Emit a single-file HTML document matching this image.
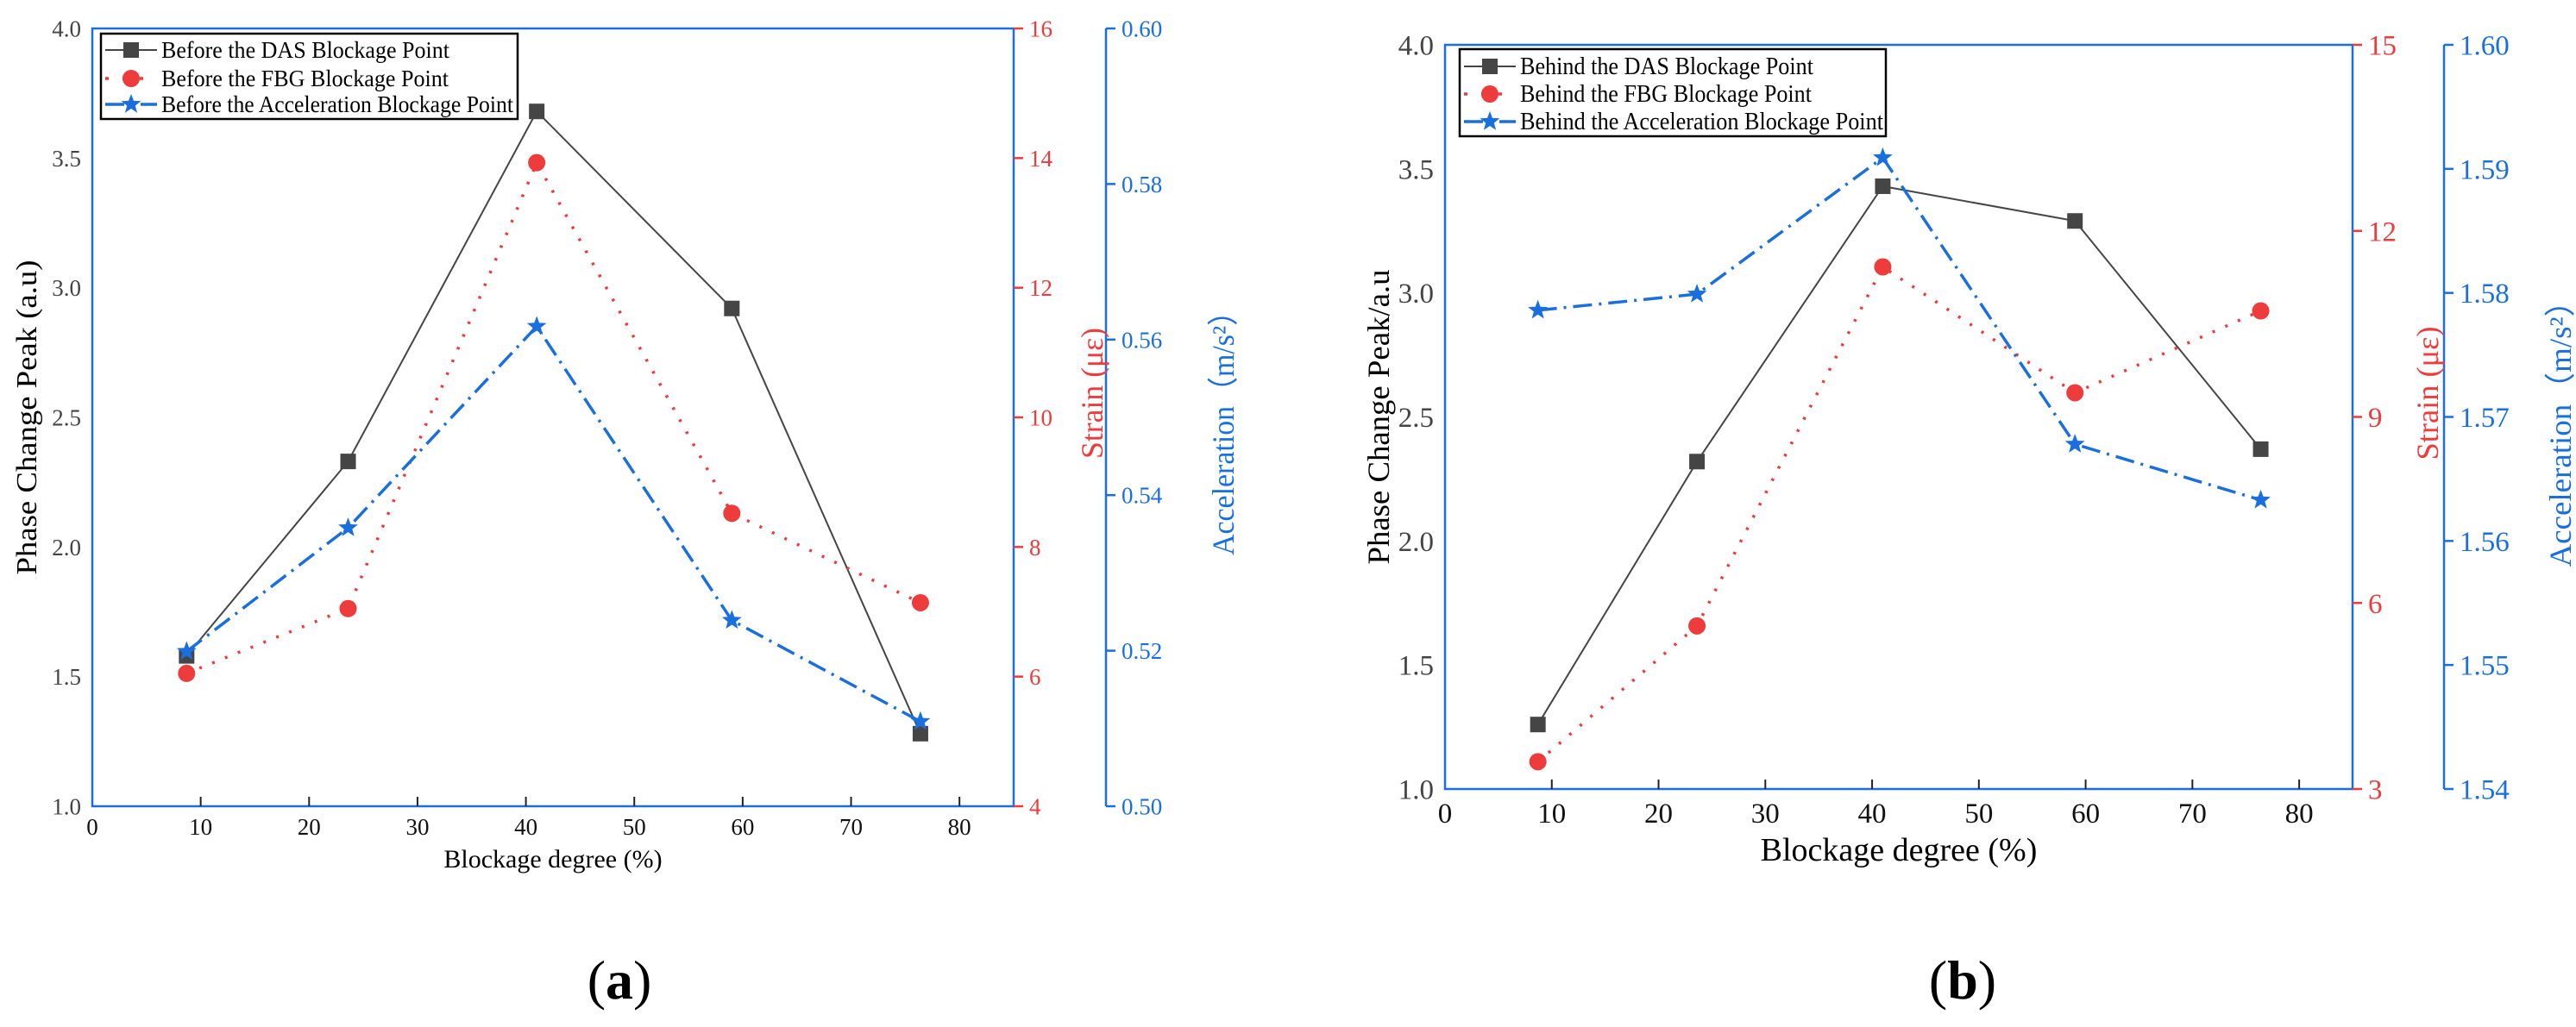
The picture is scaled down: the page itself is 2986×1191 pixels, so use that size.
<!DOCTYPE html>
<html><head><meta charset="utf-8"><style>
html,body{margin:0;padding:0;background:#fff;}
svg, svg text{font-family:"Liberation Serif","DejaVu Serif",serif;}
</style></head><body>
<svg id="chart" width="2986" height="1186" viewBox="0 0 2986 1186" xmlns="http://www.w3.org/2000/svg" font-family="Liberation Serif, serif">
<text x="718" y="1158" font-size="64" text-anchor="middle" font-family="Liberation Serif, serif">(<tspan font-weight="bold">a</tspan>)</text>
<text x="2275" y="1158" font-size="64" text-anchor="middle" font-family="Liberation Serif, serif">(<tspan font-weight="bold">b</tspan>)</text>
</svg>
<script>
// ---- data panel a ----
const xA = [8.7, 23.6, 41, 59, 76.4];
const dasA = [1.58, 2.33, 3.68, 2.92, 1.28];
const strainA = [6.05, 7.05, 13.93, 8.52, 7.14];
const accA = [0.5199, 0.5358, 0.5617, 0.5239, 0.5109];
const leftTicksA = ["1.0","1.5","2.0","2.5","3.0","3.5","4.0"];
const strainTicksA = ["4","6","8","10","12","14","16"];
const accTicksA = ["0.50","0.52","0.54","0.56","0.58","0.60"];
const legendA = ["Before the DAS Blockage Point","Before the FBG Blockage Point","Before the Acceleration Blockage Point"];
// ---- data panel b ----
const xB = [8.7, 23.6, 41, 59, 76.4];
const dasB = [1.26, 2.32, 3.43, 3.29, 2.37];
const strainB = [3.44, 5.63, 11.42, 9.39, 10.71];
const accB = [1.5786, 1.5799, 1.5909, 1.5678, 1.5633];
const leftTicksB = ["1.0","1.5","2.0","2.5","3.0","3.5","4.0"];
const strainTicksB = ["3","6","9","12","15"];
const accTicksB = ["1.54","1.55","1.56","1.57","1.58","1.59","1.60"];
const legendB = ["Behind the DAS Blockage Point","Behind the FBG Blockage Point","Behind the Acceleration Blockage Point"];
const xTicks = ["0","10","20","30","40","50","60","70","80"];

const NS = "http://www.w3.org/2000/svg";
const svg = document.getElementById('chart');
const C_DAS = "#454545", C_FBG = "#ee3b3b", C_ACC = "#1a6fdf";
function mk(tag, attrs, parent) {
  const e = document.createElementNS(NS, tag);
  if (tag === 'text') e.setAttribute('font-family', 'Liberation Serif, serif');
  for (const k in attrs) e.setAttribute(k, attrs[k]);
  (parent || svg).appendChild(e);
  return e;
}
function star(cx, cy, r) {
  let p = [];
  for (let i = 0; i < 10; i++) {
    const rr = i % 2 ? r * 0.42 : r, a = -Math.PI / 2 + i * Math.PI / 5;
    p.push((cx + rr * Math.cos(a)).toFixed(1) + "," + (cy + rr * Math.sin(a)).toFixed(1));
  }
  return p.join(" ");
}
function panel(P) {
  const g = mk('g', {});
  
  
  const xs = v => P.L + (v / 85) * (P.R - P.L);
  const yl = v => P.B - (v - 1) / 3 * (P.B - P.T);
  const ys = v => P.B - (v - P.smin) / (P.smax - P.smin) * (P.B - P.T);
  const ya = v => P.B - (v - P.amin) / (P.amax - P.amin) * (P.B - P.T);
  const fr = mk('path', {d:`M${P.R},${P.T} L${P.L},${P.T} L${P.L},${P.B} L${P.R},${P.B} L${P.R},${P.T}`, fill:'none', stroke:C_ACC, 'stroke-width':2.5}, g);
  
  
  const ba = mk('line', {x1:P.A, y1:P.T, x2:P.A, y2:P.B, stroke:C_ACC, 'stroke-width':2.5}, g);
  
  
  xTicks.forEach(t => {
    const x = xs(+t);
    if (+t > 0) mk('line', {x1:x, y1:P.B, x2:x, y2:P.B - 11, stroke:'#222', 'stroke-width':2}, g);
    const tx = mk('text', {x:x, y:P.B + P.tfs + 6, 'font-size':P.tfs, 'text-anchor':'middle', fill:'#111'}, g);
    tx.textContent = t;
    
    
  });
  P.lt.forEach(t => {
    const y = yl(+t);
    const tx = mk('text', {x:P.L - 13, y:y + P.tfs * 0.35, 'font-size':P.tfs, 'text-anchor':'end', fill:'#444'}, g);
    tx.textContent = t;
    
    
  });
  P.st.forEach(t => {
    const y = ys(+t);
    mk('line', {x1:P.R, y1:y, x2:P.R + 11, y2:y, stroke:C_FBG, 'stroke-width':2.5}, g);
    const tx = mk('text', {x:P.R + 18, y:y + P.tfs * 0.35, 'font-size':P.tfs, fill:C_FBG}, g);
    tx.textContent = t;
    
    
  });
  P.at.forEach(t => {
    const y = ya(+t);
    mk('line', {x1:P.A, y1:y, x2:P.A + 11, y2:y, stroke:C_ACC, 'stroke-width':2.5}, g);
    const tx = mk('text', {x:P.A + 18, y:y + P.tfs * 0.35, 'font-size':P.tfs, fill:C_ACC}, g);
    tx.textContent = t;
    
    
  });
  const t1 = mk('text', {x:0, y:0, 'font-size':P.yfs, 'text-anchor':'middle', fill:'#000', textLength:P.ylw, lengthAdjust:'spacingAndGlyphs', transform:`translate(${P.ylx},${(P.T+P.B)/2}) rotate(-90)`}, g);
  t1.textContent = P.ytitle;
  
  
  const t2 = mk('text', {x:0, y:0, 'font-size':P.rfs, 'text-anchor':'middle', fill:C_FBG, textLength:P.slw, lengthAdjust:'spacingAndGlyphs', transform:`translate(${P.slx},${P.sly}) rotate(-90)`}, g);
  t2.textContent = "Strain (με)";
  
  
  const t3 = mk('text', {x:0, y:0, 'font-size':P.rfs, 'text-anchor':'middle', fill:C_ACC, textLength:P.alw, lengthAdjust:'spacingAndGlyphs', transform:`translate(${P.alx},${P.aly}) rotate(-90)`}, g);
  t3.textContent = "Acceleration（m/s²）";
  
  
  const t4 = mk('text', {x:(P.L+P.R)/2, y:P.xty, 'font-size':P.xfs, 'text-anchor':'middle', fill:'#000'}, g);
  t4.textContent = "Blockage degree (%)";
  
  
  const pts = (arr, f) => arr.map((v, i) => xs(P.x[i]).toFixed(1) + "," + f(v).toFixed(1)).join(" ");
  const l1 = mk('polyline', {points:pts(P.das, yl), fill:'none', stroke:C_DAS, 'stroke-width':2}, g);
  
  
  const l2 = mk('polyline', {points:pts(P.strain, ys), fill:'none', stroke:C_FBG, 'stroke-width':3.5, 'stroke-dasharray':'3 13'}, g);
  
  
  const l3 = mk('polyline', {points:pts(P.acc, ya), fill:'none', stroke:C_ACC, 'stroke-width':3.5, 'stroke-dasharray':'22 8 3 8'}, g);
  
  
  P.das.forEach((v, i) => {
    const m = mk('rect', {x:xs(P.x[i]) - 9, y:yl(v) - 9, width:18, height:18, fill:C_DAS}, g);
    
    
  });
  P.strain.forEach((v, i) => {
    const m = mk('circle', {cx:xs(P.x[i]), cy:ys(v), r:10, fill:C_FBG}, g);
    
    
  });
  P.acc.forEach((v, i) => {
    const m = mk('polygon', {points:star(xs(P.x[i]), ya(v), 12), fill:C_ACC}, g);
    
    
  });
  const lg = mk('g', {}, g);
  
  
  mk('rect', {x:P.lg[0], y:P.lg[1], width:P.lg[2], height:P.lg[3], fill:'#fff', stroke:'#000', 'stroke-width':2.5}, lg);
  const sx = P.lg[0] + 5, sw = 60, cxm = sx + sw / 2;
  const styles = [
    {stroke:C_DAS, 'stroke-width':2},
    {stroke:C_FBG, 'stroke-width':3.5, 'stroke-dasharray':'4 16'},
    {stroke:C_ACC, 'stroke-width':3.5, 'stroke-dasharray':'22 8 3 8'}];
  P.legend.forEach((t, i) => {
    const y = P.rows[i];
    const e = mk('g', {}, lg);
    
    
    mk('line', Object.assign({x1:sx, y1:y, x2:sx + sw, y2:y}, styles[i]), e);
    if (i === 0) mk('rect', {x:cxm - 9, y:y - 9, width:18, height:18, fill:C_DAS}, e);
    if (i === 1) mk('circle', {cx:cxm, cy:y, r:10, fill:C_FBG}, e);
    if (i === 2) mk('polygon', {points:star(cxm, y, 12), fill:C_ACC}, e);
    const tx = mk('text', {x:P.ltx, y:y + 9, 'font-size':P.lfs, textLength:P.ltw[i], lengthAdjust:'spacingAndGlyphs'}, e);
    tx.textContent = t;
  });
}
panel({id:'a', L:107, R:1175, A:1282, T:33, B:935, smin:4, smax:16, amin:0.5, amax:0.6,
  x:xA, das:dasA, strain:strainA, acc:accA, lt:leftTicksA, st:strainTicksA, at:accTicksA, legend:legendA,
  tfs:27, yfs:34, rfs:36, xfs:30, ytitle:"Phase Change Peak (a.u)", ylx:42, ylw:365,
  slx:1278, sly:456, slw:152, alx:1430, aly:494, alw:300, xty:1006,
  lg:[117, 39, 483, 99], rows:[58, 91, 121], ltx:187, lfs:27, ltw:[334, 333, 408]});
panel({id:'b', L:1675, R:2727, A:2833, T:52, B:915, smin:3, smax:15, amin:1.54, amax:1.60,
  x:xB, das:dasB, strain:strainB, acc:accB, lt:leftTicksB, st:strainTicksB, at:accTicksB, legend:legendB,
  tfs:33, yfs:36, rfs:36, xfs:38, ytitle:"Phase Change Peak/a.u", ylx:1610, ylw:342,
  slx:2826, sly:456, slw:155, alx:2980, aly:494, alw:327, xty:998,
  lg:[1692, 57, 494, 101], rows:[77, 109, 141], ltx:1762, lfs:28, ltw:[340, 338, 421]});
</script>
</body></html>
